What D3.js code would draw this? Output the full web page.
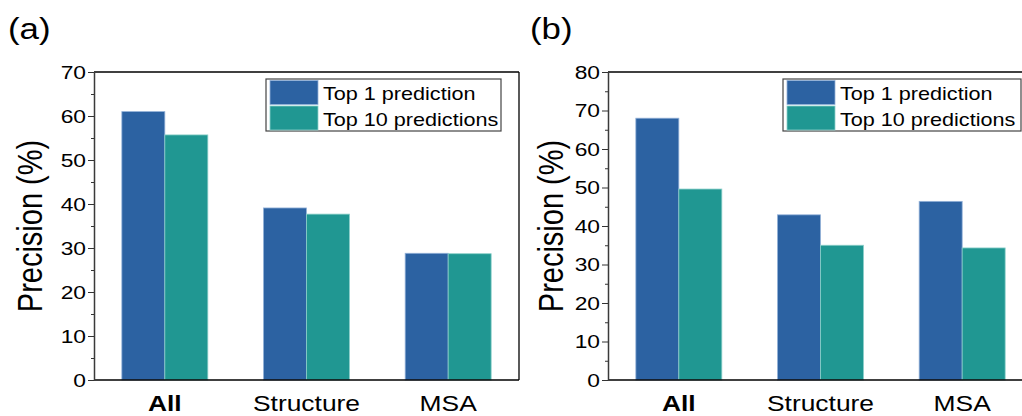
<!DOCTYPE html>
<html>
<head>
<meta charset="utf-8">
<script src="https://cdn.jsdelivr.net/npm/d3@7"></script>
<style>
    body { margin: 0; background: #fff; }
    svg { display: block; font-family: 'Liberation Sans', Arial, sans-serif; }
</style>
</head>
<body>
<svg id="chart" width="1022" height="416"></svg>
<script>
const categories = ['All', 'Structure', 'MSA'];
const seriesNames = ['Top 1 prediction', 'Top 10 predictions'];
const colours = ['#2c62a2', '#209792'];
const edges = ['#93b1d8', '#8ccfca'];

// panel (a)
const top1A = [61.0, 39.1, 28.8];
const top10A = [55.7, 37.7, 28.7];
const yTicksA = [0, 10, 20, 30, 40, 50, 60, 70];

// panel (b)
const top1B = [68.0, 42.9, 46.4];
const top10B = [49.6, 35.0, 34.3];
const yTicksB = [0, 10, 20, 30, 40, 50, 60, 70, 80];

const stretch = 1.2; // the figure is a bit wider than tall text would be

const panels = [
    { label: '(a)', labelX: 8, left: 94, right: 519, titleX: 42, legendX: 266, legendW: 235,
      values: [top1A, top10A], ticks: yTicksA, closed: true },
    { label: '(b)', labelX: 530, left: 608, right: 1033, titleX: 563, legendX: 783, legendW: 238,
      values: [top1B, top10B], ticks: yTicksB, closed: false }
];
const plotTop = 72, plotBottom = 380;

const svg = d3.select('#chart');

panels.forEach(p => {
    let g = svg.append('g');
    let maxV = p.ticks[p.ticks.length - 1];

    let y = d3.scaleLinear().domain([0, maxV]).range([plotBottom, plotTop]);
    let x0 = d3.scaleBand().domain(categories).range([p.left, p.right])
        .paddingInner(0.393).paddingOuter(0.1965);
    let x1 = d3.scaleBand().domain(seriesNames).range([0, x0.bandwidth()]);

    // bars
    seriesNames.forEach((s, si) => {
        g.selectAll('.bar' + si)
            .data(categories)
            .enter()
            .append('rect')
            .attr('x', c => x0(c) + x1(s))
            .attr('y', (c, i) => y(p.values[si][i]))
            .attr('width', x1.bandwidth())
            .attr('height', (c, i) => plotBottom - y(p.values[si][i]))
            .attr('fill', colours[si])
            .attr('stroke', edges[si])
            .attr('stroke-width', 0.8);
    });

    // frame
    g.append('line').attr('x1', p.left).attr('x2', p.right).attr('y1', plotTop).attr('y2', plotTop)
        .attr('stroke', '#000').attr('stroke-width', 1.3);
    if (p.closed) {
        g.append('line').attr('x1', p.right).attr('x2', p.right).attr('y1', plotTop).attr('y2', plotBottom)
            .attr('stroke', '#000').attr('stroke-width', 1.3);
    }
    g.append('line').attr('x1', p.left).attr('x2', p.right).attr('y1', plotBottom).attr('y2', plotBottom)
        .attr('stroke', '#000').attr('stroke-width', 1.6);

    // y axis, minor ticks first
    let minor = d3.range(5, maxV, 10);
    g.append('g')
        .attr('transform', `translate(${p.left},0)`)
        .call(d3.axisLeft(y).tickValues(minor).tickSize(3).tickFormat(''))
        .call(a => a.select('.domain').remove())
        .call(a => a.selectAll('line').attr('stroke', '#333'));

    let yAxis = g.append('g')
        .attr('transform', `translate(${p.left},0)`)
        .call(d3.axisLeft(y).tickValues(p.ticks).tickSize(6).tickPadding(2).tickSizeOuter(0));
    yAxis.select('.domain').attr('stroke', '#3a3a3a').attr('stroke-width', 1.5);
    yAxis.selectAll('line').attr('stroke', '#333');
    yAxis.selectAll('text')
        .attr('font-size', 19)
        .attr('fill', '#000')
        .attr('font-family', "'Liberation Sans', Arial, sans-serif")
        .attr('x', -8 / stretch)
        .attr('transform', `scale(${stretch},1)`);

    // category labels
    categories.forEach((c, i) => {
        g.append('text')
            .attr('transform', `translate(${x0(c) + x0.bandwidth() / 2},411) scale(${stretch},1)`)
            .attr('text-anchor', 'middle')
            .attr('font-size', 22)
            .attr('font-weight', i === 0 ? 'bold' : 'normal')
            .text(c);
    });

    // y title
    g.append('text')
        .attr('transform', `translate(${p.titleX},226) scale(${stretch},1) rotate(-90)`)
        .attr('text-anchor', 'middle')
        .attr('font-size', 29)
        .text('Precision (%)');

    // panel label
    g.append('text')
        .attr('transform', `translate(${p.labelX},39) scale(${stretch},1)`)
        .attr('font-size', 29)
        .text(p.label);

    // legend
    let lg = g.append('g').attr('transform', `translate(${p.legendX},79)`);
    lg.append('rect').attr('width', p.legendW).attr('height', 52)
        .attr('fill', '#fff').attr('stroke', '#444').attr('stroke-width', 1.2);
    seriesNames.forEach((s, si) => {
        lg.append('rect')
            .attr('x', 4).attr('y', 1.5 + si * 25.5)
            .attr('width', 48).attr('height', 24)
            .attr('fill', colours[si])
            .attr('stroke', edges[si]).attr('stroke-width', 0.8);
        lg.append('text')
            .attr('transform', `translate(57,${21 + si * 25.5}) scale(${stretch},1)`)
            .attr('font-size', 18)
            .text(s);
    });
});
</script>
</body>
</html>
